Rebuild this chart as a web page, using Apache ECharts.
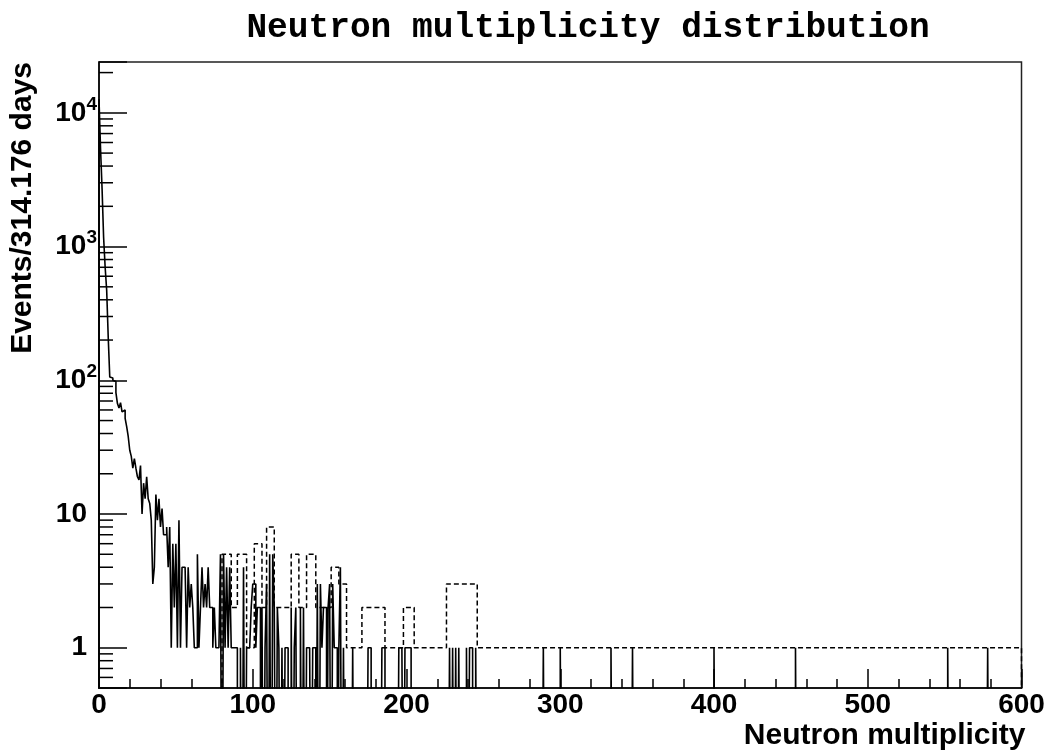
<!DOCTYPE html>
<html>
<head>
<meta charset="utf-8">
<script src="https://cdn.jsdelivr.net/npm/echarts@6/dist/echarts.min.js"></script>
<style>
  html, body { margin: 0; padding: 0; background: #fff; }
  #chart { width: 1049px; height: 756px; }
</style>
</head>
<body>
<div id="chart"></div>
<script>
// Events per unit-width multiplicity bin, bins 0..159
const lowCounts = [
  12700, 5400, 2700, 1170, 700, 470, 210, 106, 104, 100,
  98, 81, 67, 62, 68, 58, 60, 52, 45, 38,
  30, 27, 22, 26, 22, 19, 18, 23, 10, 17,
  13, 19, 13, 12, 9, 3, 4, 14, 9, 13,
  8, 11, 7, 7, 8, 4, 8, 1, 6, 2,
  6, 1, 9, 1, 4, 4, 4, 1, 4, 2,
  3, 2, 1, 1, 5, 1, 2, 4, 2, 3,
  2, 4, 2, 2, 1, 2, 1, 1, 1, 5,
  0, 5, 1, 4, 1, 4, 1, 1, 1, 1,
  0, 0, 1, 0, 4, 0, 1, 1, 1, 2,
  3, 3, 1, 2, 2, 0, 2, 0, 1, 3,
  0, 5, 0, 5, 2, 0, 2, 1, 0, 1,
  0, 1, 1, 0, 0, 2, 0, 1, 2, 0,
  0, 2, 0, 2, 0, 1, 1, 1, 0, 1,
  1, 0, 3, 0, 3, 1, 2, 2, 0, 2,
  3, 0, 3, 1, 1, 0, 1, 4, 0, 1
];
// Sparse high-multiplicity bins (bin index and events)
const tailBins = [165, 175, 176, 184, 185, 195, 196, 197, 199, 200, 201, 202,
                  228, 230, 232, 234, 239, 241, 242, 245,
                  289, 300, 333, 347, 400, 453, 552, 578];
const tailCounts = [1, 1, 1, 1, 1, 1, 1, 1, 1, 1, 1, 1,
                    1, 1, 1, 1, 1, 1, 1, 1,
                    1, 1, 1, 1, 1, 1, 1, 1];

// Variable-width comparison histogram (dashed)
const dashEdges = [80, 86, 90, 96, 101, 106, 109, 114, 125, 130, 135, 141,
                   151, 156, 161, 171, 186, 198, 205, 226, 246, 600];
const dashCounts = [5, 2, 5, 1, 6, 2, 8, 2, 5, 2, 5, 2,
                    4, 3, 1, 2, 1, 2, 1, 3, 1];

// Axis decoration
const xTickValues = [0, 100, 200, 300, 400, 500, 600];
const yMinorTicks = [0.6, 0.7, 0.8, 0.9,
  2, 3, 4, 5, 6, 7, 8, 9,
  20, 30, 40, 50, 60, 70, 80, 90,
  200, 300, 400, 500, 600, 700, 800, 900,
  2000, 3000, 4000, 5000, 6000, 7000, 8000, 9000,
  20000];

const X_MIN = 0, X_MAX = 600, N_BINS = 600;
const Y_MIN = 0.5, Y_MAX = 24000;
// empty bins are sent below the frame so the outline drops to the bottom edge
const BELOW = 0.01;

const counts = new Array(N_BINS).fill(0);
lowCounts.forEach((c, i) => { counts[i] = c; });
tailBins.forEach((b, i) => { counts[b] = tailCounts[i]; });
const unitEdges = [];
for (let i = 0; i <= N_BINS; i++) unitEdges.push(X_MIN + i);

// Histogram outline as step points: [left edge, content] per bin
function outline(edges, values) {
  const shown = v => (v > 0 ? v : BELOW);
  const pts = [[edges[0], BELOW]];
  values.forEach((v, i) => pts.push([edges[i], shown(v)]));
  const last = edges[edges.length - 1];
  pts.push([last, shown(values[values.length - 1])]);
  pts.push([last, BELOW]);
  return pts;
}

const FONT = '"Liberation Sans", Arial, Helvetica, sans-serif';
const LABEL_SIZE = 28;
const NAME_SIZE = 30;
const INK = '#000';

const chart = echarts.init(document.getElementById('chart'), null, { renderer: 'canvas' });

chart.setOption({
  animation: false,
  backgroundColor: '#fff',
  title: {
    text: 'Neutron multiplicity distribution',
    left: 583,
    top: 6,
    textAlign: 'center',
    textStyle: {
      fontFamily: '"Liberation Mono", "Courier New", monospace',
      fontWeight: 'bold',
      fontSize: 34.5,
      color: INK
    }
  },
  grid: {
    left: 99, right: 27.5, top: 62, bottom: 68,
    show: true, borderColor: '#222', borderWidth: 1.5, backgroundColor: '#fff'
  },
  xAxis: {
    type: 'value',
    min: X_MIN, max: X_MAX, interval: 100,
    name: 'Neutron multiplicity',
    nameLocation: 'end',
    nameGap: 4,
    nameTextStyle: {
      fontFamily: FONT, fontWeight: 'bold', fontSize: NAME_SIZE, color: INK,
      align: 'right', verticalAlign: 'top', padding: [33, 0, 0, 0]
    },
    axisLine: { onZero: false, lineStyle: { color: INK, width: 1.5 } },
    axisTick: { inside: true, length: 19, lineStyle: { color: INK, width: 1.5 } },
    minorTick: { show: true, splitNumber: 5, length: 9, lineStyle: { color: INK, width: 1.5 } },
    splitLine: { show: false },
    axisLabel: {
      margin: 3, color: INK, fontFamily: FONT, fontWeight: 'bold', fontSize: LABEL_SIZE,
      showMinLabel: true, showMaxLabel: true,
      formatter: v => (xTickValues.includes(v) ? String(v) : '')
    }
  },
  yAxis: {
    type: 'log',
    logBase: 10,
    min: Y_MIN, max: Y_MAX,
    name: 'Events/314.176 days',
    nameLocation: 'end',
    nameGap: 0,
    nameRotate: 90,
    nameTextStyle: {
      fontFamily: FONT, fontWeight: 'bold', fontSize: NAME_SIZE, color: INK,
      align: 'right', verticalAlign: 'bottom', padding: [0, 0, 61, 0]
    },
    axisLine: { lineStyle: { color: INK, width: 1.5 } },
    axisTick: { inside: true, length: 28, lineStyle: { color: INK, width: 1.5 } },
    splitLine: { show: false },
    axisLabel: {
      margin: 2, color: INK,
      formatter: v => {
        const e = Math.log10(v), r = Math.round(e);
        if (Math.abs(e - r) > 1e-6) return '';
        if (r === 0) return '{n|1}{g| }';
        if (r === 1) return '{n|10}{g| }';
        return '{n|10}{s|' + r + '}';
      },
      rich: {
        n: { fontFamily: FONT, fontWeight: 'bold', fontSize: LABEL_SIZE, color: INK, padding: [4, 0, 4, 0] },
        s: { fontFamily: FONT, fontWeight: 'bold', fontSize: 19, color: INK, verticalAlign: 'top' },
        g: { width: 10 }
      }
    }
  },
  series: [
    {
      // short minor ticks of the log axis
      type: 'custom',
      silent: true,
      data: yMinorTicks.map(v => [X_MIN, v]),
      renderItem: (params, api) => {
        const p = api.coord([X_MIN, api.value(1)]);
        return {
          type: 'line',
          shape: { x1: p[0], y1: p[1], x2: p[0] + 14, y2: p[1] },
          style: { stroke: INK, lineWidth: 1.5 }
        };
      },
      z: 5
    },
    {
      name: 'coarse',
      type: 'line',
      step: 'end',
      data: outline(dashEdges, dashCounts),
      showSymbol: false,
      symbol: 'none',
      clip: true,
      silent: true,
      lineStyle: { color: INK, width: 1.5, type: [5, 3] },
      z: 3
    },
    {
      name: 'events',
      type: 'line',
      step: 'end',
      data: outline(unitEdges, counts),
      showSymbol: false,
      symbol: 'none',
      clip: true,
      silent: true,
      lineStyle: { color: INK, width: 1.6 },
      z: 4
    }
  ]
});
</script>
</body>
</html>
